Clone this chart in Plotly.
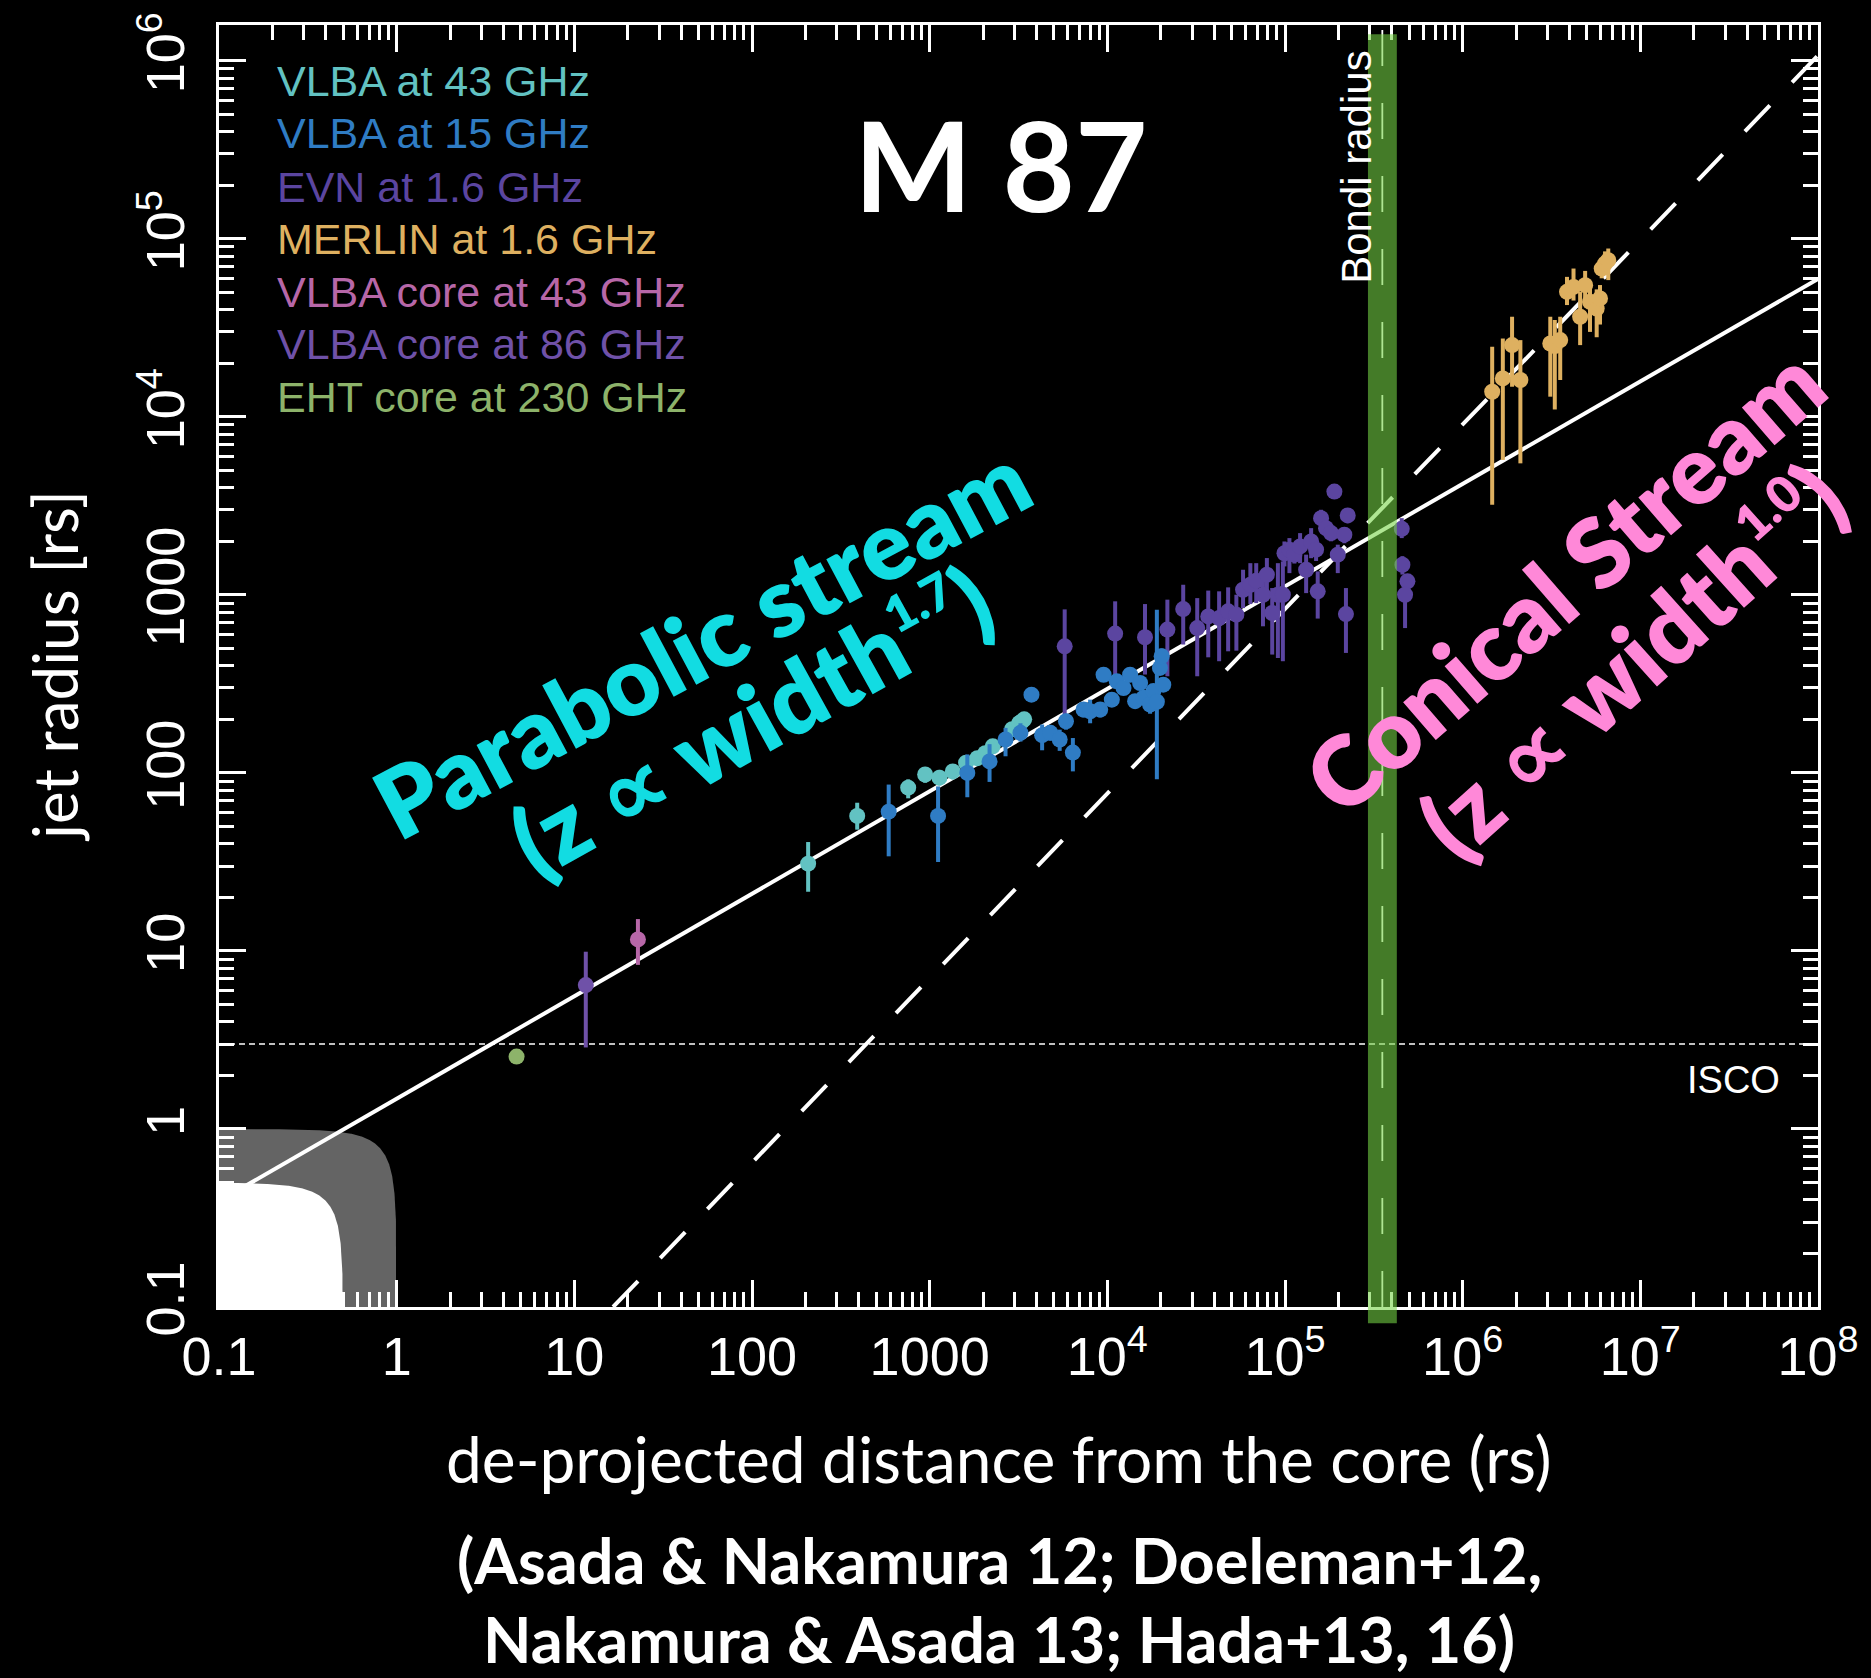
import numpy as np
import plotly.graph_objects as go

# ------------------------------------------------------------------ data
# VLBA at 43 GHz
vlba43_x = [207, 391, 757, 943, 1135, 1349, 1603, 1854, 2055, 2264, 2911, 3190, 3404, 3311]
vlba43_y = [30.9, 57.3, 82.6, 98, 94, 102, 114, 121, 129, 141, 176, 190, 200, 195]
vlba43_lo = [21.5, 48, 72, 88, 85, 92, 104, 110, 117, 128, 160, 172, 181, 177]
vlba43_hi = [40.9, 68, 92, 108, 104, 112, 125, 132, 141, 154, 193, 209, 220, 214]

# VLBA at 15 GHz
vlba15_x = [588, 1115, 1629, 2173, 2673, 3244, 3741, 4295, 4780, 5393, 6398, 5852, 7345, 8000,
            9118, 9524, 10600, 11300, 12330, 13430, 14330, 15290, 15970, 17400, 18160, 19780,
            20220, 20650, 19000]
vlba15_y = [60.6, 57.3, 100, 116, 154, 168, 275, 163, 168, 154, 130, 195, 227, 222,
            227, 356, 258, 327, 300, 356, 253, 320, 264, 242, 288, 389,
            452, 313, 251]
vlba15_lo = [34, 31.6, 73, 89, 124, 150, 262, 134, 152, 133, 102, 175, 205, 190,
             205, 330, 235, 300, 275, 330, 230, 295, 242, 215, 265, 365,
             420, 290, 92]
vlba15_hi = [86, 84, 127, 145, 179, 190, 290, 187, 186, 175, 157, 215, 250, 258,
             250, 380, 282, 355, 325, 385, 277, 345, 288, 270, 312, 415,
             500, 338, 826]

# EVN at 1.6 GHz
evn_x = [5754, 11066, 16293, 21777, 26730, 32060, 36980, 42580, 47860, 53250, 58070, 63830,
         68870, 75160, 79070, 84720, 91200, 97270, 99300, 105900, 113000, 121600, 131500,
         140300, 149600, 152800, 159600, 170200, 181600, 189700, 198200, 220300, 225400,
         215800, 454000, 458000, 488700, 474000]
evn_y = [514, 606, 578, 638, 832, 651, 757, 741, 808, 774, 1069, 1140,
         1202, 1002, 1298, 791, 1002, 1002, 1714, 1794, 1682, 1871, 1384,
         1995, 1794, 1047, 2698, 2371, 2223, 3802, 1682, 780, 2793,
         2178, 2350, 1476, 1191, 1002]
evn_lo = [214, 336, 357, 349, 526, 349, 446, 424, 482, 486, 843, 888,
          899, 666, 1002, 462, 442, 424, 1445, 1325, 1500, 1507, 1023,
          1607, 1550, 736, 2323, 2150, 2000, 3600, 1325, 472, 2529,
          1950, 2084, 1300, 1000, 651]
evn_hi = [829, 920, 888, 940, 1140, 959, 1057, 1047, 1102, 1002, 1384, 1507,
          1507, 1325, 1610, 1092, 1507, 1541, 1995, 2084, 1900, 2223, 1682,
          2371, 2050, 1355, 3006, 2600, 2450, 4000, 1914, 1092, 3069,
          2400, 2698, 1650, 1271, 1271]

# MERLIN at 1.6 GHz
merlin_x = [1.466e6, 1.683e6, 1.897e6, 2.113e6, 3.113e6, 3.3e6, 3.54e6, 3.866e6, 4.206e6,
            4.583e6, 4.89e6, 5.21e6, 5.68e6, 5.93e6, 6.06e6, 6.33e6, 6.6e6]
merlin_y = [13840, 16440, 25290, 16110, 25820, 25000, 26980, 50350, 53700,
            36500, 54930, 44250, 40550, 46240, 68080, 72610, 75870]
merlin_lo = [3206, 5727, 14760, 5480, 12980, 11000, 16110, 42460, 45000,
             25290, 44250, 30000, 28000, 33000, 60000, 64000, 58610]
merlin_hi = [24770, 27540, 36500, 26980, 36500, 35000, 36500, 61130, 68080,
             50350, 66030, 58000, 52000, 55000, 78000, 85000, 88200]

# cores
core43_x, core43_y, core43_lo, core43_hi = [22.8], [11.6], [8.35], [15.1]
core86_x, core86_y, core86_lo, core86_hi = [11.6], [6.43], [2.87], [9.9]
eht_x, eht_y = [4.73], [2.55]

# model lines / reference values
para_norm, para_index = 1.479, 0.5756      # r = A z^0.58  (z ∝ width^1.7)
cone_norm, cone_index = 0.005464, 1.0366   # r = B z^1.0
ISCO = 3.0
BONDI_LO, BONDI_HI, BONDI_MID = 2.93e5, 4.26e5, 3.53e5
BH_RADII = [1.0, 0.5]

x_tickvals = [0.1, 1, 10, 100, 1000, 1e4, 1e5, 1e6, 1e7, 1e8]
x_ticktext = ["0.1", "1", "10", "100", "1000", "10<sup>4</sup>", "10<sup>5</sup>",
              "10<sup>6</sup>", "10<sup>7</sup>", "10<sup>8</sup>"]
y_tickvals = [0.1, 1, 10, 100, 1000, 1e4, 1e5, 1e6]
y_ticktext = ["0.1", "1", "10", "100", "1000", "10<sup>4</sup>", "10<sup>5</sup>", "10<sup>6</sup>"]

legend_labels = ["VLBA at 43 GHz", "VLBA at 15 GHz", "EVN at 1.6 GHz", "MERLIN at 1.6 GHz",
                 "VLBA core at 43 GHz", "VLBA core at 86 GHz", "EHT core at 230 GHz"]
C_VLBA43 = "#62C2C2"
C_VLBA15 = "#2F7CC4"
C_EVN = "#5B45A0"
C_MERLIN = "#DEB060"
C_CORE43 = "#B767A8"
C_CORE86 = "#6F51A8"
C_EHT = "#8DB36A"
legend_colors = [C_VLBA43, C_VLBA15, C_EVN, C_MERLIN, C_CORE43, C_CORE86, C_EHT]

# ------------------------------------------------------------------ layout geometry
W, H = 1871, 1678
L, R, T, B = 219, 1824, 22.7, 1306.7
XR = [-1, 8]
YR = [-1, 6.201]


def pxx(xp):
    return (xp - L) / (R - L)


def pyy(yp):
    return (B - yp) / (B - T)


fig = go.Figure()

# black hole regions (superellipse in linear space)
t = np.linspace(0.0, np.pi / 2, 400)


def bh(Rr, p=3.0):
    xs = Rr * np.cos(t) ** (2 / p)
    ys = Rr * np.sin(t) ** (2 / p)
    xs = np.maximum(xs, 1e-3)
    ys = np.maximum(ys, 1e-3)
    xs = np.concatenate([xs, [1e-3]])
    ys = np.concatenate([ys, [1e-3]])
    return xs, ys


gx, gy = bh(BH_RADII[0])
fig.add_trace(go.Scatter(x=gx, y=gy, fill="toself", fillcolor="#646464", mode="lines",
                         line=dict(width=0, color="#646464"), hoverinfo="skip"))

# parabolic solid line
lx = np.array([0.1, 1e8])
fig.add_trace(go.Scatter(x=lx, y=para_norm * lx ** para_index, mode="lines",
                         line=dict(color="white", width=4), hoverinfo="skip"))

wx, wy = bh(BH_RADII[1])
fig.add_trace(go.Scatter(x=wx, y=wy, fill="toself", fillcolor="#FFFFFF", mode="lines",
                         line=dict(width=0, color="#FFFFFF"), hoverinfo="skip"))

# conical dashed line
cx = np.array([(0.1 / cone_norm) ** (1 / cone_index), 1e8])
fig.add_trace(go.Scatter(x=cx, y=cone_norm * cx ** cone_index, mode="lines",
                         line=dict(color="white", width=4, dash="36px,32px"), hoverinfo="skip"))

# ISCO
fig.add_trace(go.Scatter(x=[0.1, 1e8], y=[ISCO, ISCO], mode="lines",
                         line=dict(color="white", width=1.4, dash="6px,4px"), hoverinfo="skip"))

# Bondi centre line
fig.add_trace(go.Scatter(x=[BONDI_MID, BONDI_MID], y=[0.1, 10 ** 6.2], mode="lines",
                         line=dict(color="white", width=1.8, dash="36px,37px"), hoverinfo="skip"))


def series(x, y, lo, hi, color):
    y = np.array(y, float)
    kw = {}
    if hi is not None:
        eu = np.array(hi, float) - y
        ed = y - np.array(lo, float)
        kw["error_y"] = dict(type="data", symmetric=False, array=eu, arrayminus=ed,
                             color=color, thickness=4, width=0)
    fig.add_trace(go.Scatter(x=x, y=y, mode="markers",
                             marker=dict(size=16, color=color, line=dict(width=0)),
                             hoverinfo="skip", **kw))


series(evn_x, evn_y, evn_lo, evn_hi, C_EVN)
series(vlba43_x, vlba43_y, vlba43_lo, vlba43_hi, C_VLBA43)
series(vlba15_x, vlba15_y, vlba15_lo, vlba15_hi, C_VLBA15)
series(merlin_x, merlin_y, merlin_lo, merlin_hi, C_MERLIN)
series(core43_x, core43_y, core43_lo, core43_hi, C_CORE43)
series(core86_x, core86_y, core86_lo, core86_hi, C_CORE86)
series(eht_x, eht_y, None, None, C_EHT)

# Bondi band
fig.add_shape(type="rect", xref="x", yref="paper", x0=BONDI_LO, x1=BONDI_HI,
              y0=pyy(1323), y1=pyy(32), fillcolor="rgba(118,212,69,0.58)",
              line=dict(width=0), layer="above")


def minor_vals(lo, hi):
    out = []
    for e in range(lo, hi):
        for m in range(2, 10):
            out.append(m * 10.0 ** e)
    return out


axis_common = dict(type="log", showgrid=False, zeroline=False, showline=True,
                   linecolor="white", linewidth=3.4, mirror="ticks", ticks="inside",
                   ticklen=27, tickwidth=3.2, tickcolor="white",
                   tickfont=dict(family="Liberation Sans, Arial, sans-serif", size=54, color="white"))

fig.update_xaxes(range=XR, tickmode="array", tickvals=x_tickvals, ticktext=x_ticktext,
                 ticklabelstandoff=0,
                 minor=dict(tickmode="array", tickvals=minor_vals(-1, 8), ticks="inside",
                            ticklen=15, tickwidth=3.2, tickcolor="white", showgrid=False),
                 **axis_common)
fig.update_yaxes(range=YR, tickmode="array", tickvals=y_tickvals, ticktext=y_ticktext,
                 tickangle=-90, ticklabelstandoff=10,
                 minor=dict(tickmode="array", tickvals=minor_vals(-1, 7), ticks="inside",
                            ticklen=15, tickwidth=3.2, tickcolor="white", showgrid=False),
                 **axis_common)

anns = []


def ann(text, xp, yp, size, color="white", family="Lato, sans-serif", angle=0,
        xanchor="center", weight="normal"):
    anns.append(dict(text=text, x=pxx(xp), y=pyy(yp), xref="paper", yref="paper",
                     showarrow=False, xanchor=xanchor, yanchor="middle", textangle=angle,
                     font=dict(family=family, size=size, color=color, weight=weight)))


# legend texts
leg_y = [79, 131, 185, 237, 290, 342, 395]
for lab, col, yy in zip(legend_labels, legend_colors, leg_y):
    ann(lab, 275, yy, 43, col, family="Liberation Sans, Arial", xanchor="left")

CYAN = "#12DCE2"
PINK = "#FF88D8"
sup17 = "<sup><span style='font-size:50px'>1.7</span></sup>"
sup10 = "<sup><span style='font-size:50px'>1.0</span></sup>"
ann("M 87", 1004, 162, 125, "white", weight="bold")
ann("Parabolic stream", 703, 638, 96, CYAN, angle=-28, weight=800)
ann("(z ∝ width" + sup17 + ")", 752, 718, 96, CYAN, angle=-29, weight=800)
ann("Conical Stream", 1568, 578, 96, PINK, angle=-41, weight=800)
ann("(z ∝ width" + sup10 + ")", 1636, 658, 96, PINK, angle=-42, weight=800)
ann("Bondi radius", 1360, 165, 42, "white", family="Liberation Sans, Arial", angle=-90)
ann("ISCO", 1739, 1079, 38, "white", family="Liberation Sans, Arial")
ann("jet radius [rs]", 54, 665, 62, "white", angle=-90)
ann("de-projected distance from the core (rs)", 1002, 1458, 64, "white")
ann("(Asada &amp; Nakamura 12; Doeleman+12,", 1002, 1560, 63, "white", weight="bold")
ann("Nakamura &amp; Asada 13; Hada+13, 16)", 1002, 1639, 63, "white", weight="bold")

fig.update_layout(width=W, height=H, paper_bgcolor="black", plot_bgcolor="black",
                  margin=dict(l=L, r=W - R, t=T, b=H - B), showlegend=False,
                  annotations=anns)

fig.write_html("out.html")
